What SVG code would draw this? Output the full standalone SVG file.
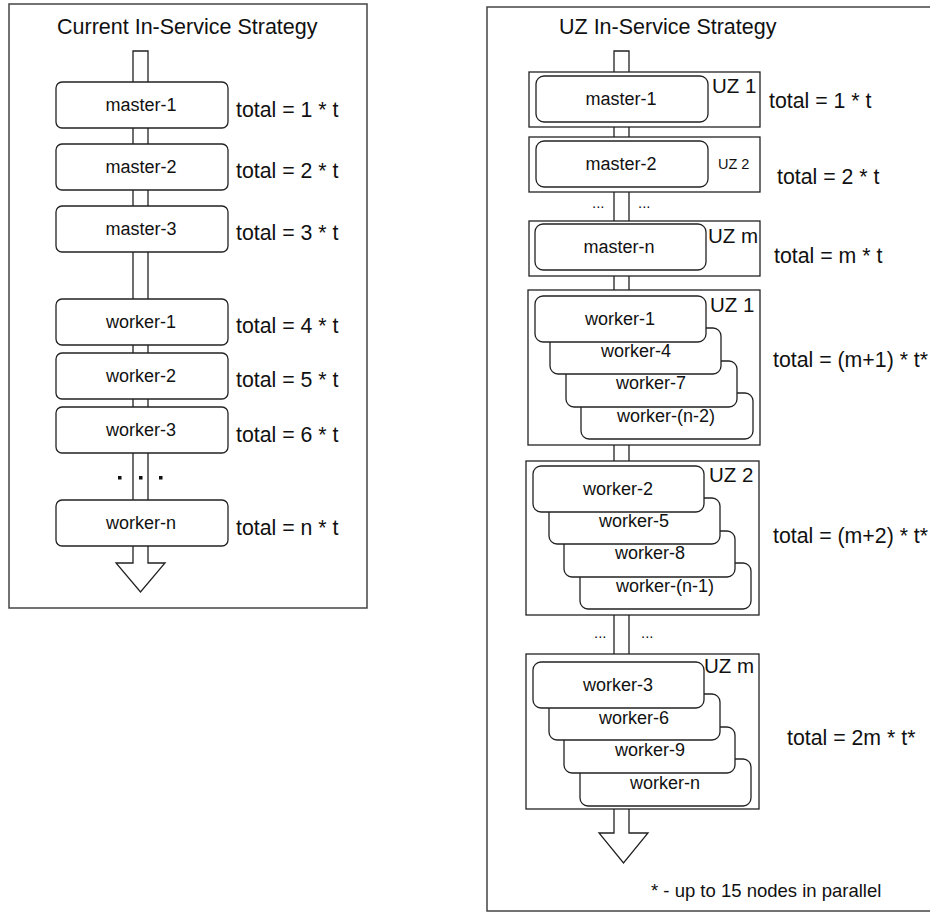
<svg xmlns="http://www.w3.org/2000/svg" width="930" height="913" viewBox="0 0 930 913">
<style>
text{font-family:"Liberation Sans",Arial,Helvetica,sans-serif;fill:#111}
.frame{fill:#fff;stroke:#444;stroke-width:1.5}
.node{fill:#fff;stroke:#222;stroke-width:1.3}
.zone{fill:#fff;stroke:#222;stroke-width:1.3}
.arrow{fill:#fff;stroke:#222;stroke-width:1.3}
.lbl{font-size:18px;text-anchor:middle}
.tot{font-size:21.3px}
.title{font-size:21.5px}
.uz{font-size:20.5px}
.dots{font-size:15px}
</style>
<rect width="930" height="913" fill="#fff"/>
<!-- Left panel -->
<g id="left-panel">
<rect class="frame" x="9" y="4" width="358" height="604"/>
<text class="title" x="57" y="34">Current In-Service Strategy</text>
</g>
<g id="left-connectors">
<path class="arrow" d="M133,51 H148 V563 H165 L140.5,592 L116,563 H133 Z"/>
<rect x="118" y="476" width="3.5" height="3.5" fill="#111"/>
<rect x="139" y="476" width="3.5" height="3.5" fill="#111"/>
<rect x="159" y="476" width="3.5" height="3.5" fill="#111"/>
</g>
<g id="l-master-1"><rect class="node" x="56" y="82" width="172" height="46" rx="6"/><text class="lbl" x="141" y="111">master-1</text><text class="tot" x="236" y="117">total = 1 * t</text></g>
<g id="l-master-2"><rect class="node" x="56" y="144" width="172" height="46" rx="6"/><text class="lbl" x="141" y="173">master-2</text><text class="tot" x="236" y="178">total = 2 * t</text></g>
<g id="l-master-3"><rect class="node" x="56" y="206" width="172" height="46" rx="6"/><text class="lbl" x="141" y="235">master-3</text><text class="tot" x="236" y="240">total = 3 * t</text></g>
<g id="l-worker-1"><rect class="node" x="56" y="299" width="172" height="46" rx="6"/><text class="lbl" x="141" y="328">worker-1</text><text class="tot" x="236" y="333">total = 4 * t</text></g>
<g id="l-worker-2"><rect class="node" x="56" y="353" width="172" height="46" rx="6"/><text class="lbl" x="141" y="382">worker-2</text><text class="tot" x="236" y="387">total = 5 * t</text></g>
<g id="l-worker-3"><rect class="node" x="56" y="407" width="172" height="46" rx="6"/><text class="lbl" x="141" y="436">worker-3</text><text class="tot" x="236" y="442">total = 6 * t</text></g>
<g id="l-worker-n"><rect class="node" x="56" y="500" width="172" height="46" rx="6"/><text class="lbl" x="141" y="529">worker-n</text><text class="tot" x="236" y="535">total = n * t</text></g>

<!-- Right panel -->
<g id="right-panel">
<rect class="frame" x="487" y="7" width="460" height="904"/>
<text class="title" x="559" y="34">UZ In-Service Strategy</text>
<text x="651" y="897" style="font-size:18.5px">* - up to 15 nodes in parallel</text>
</g>
<g id="right-connectors">
<path class="arrow" d="M614,51 H629 V833 H648 L623.5,863 L599,833 H614 Z"/>
<text class="dots" x="592" y="208">...</text>
<text class="dots" x="638" y="208">...</text>
<text class="dots" x="594" y="638">...</text>
<text class="dots" x="641" y="638">...</text>
</g>
<g id="uz1-master">
<rect class="zone" x="529" y="72" width="231" height="55"/>
<rect class="node" x="536" y="76" width="172" height="46" rx="8"/>
<text class="lbl" x="621" y="105">master-1</text>
<text class="uz" x="712" y="93">UZ 1</text>
<text class="tot" x="769" y="108">total = 1 * t</text>
</g>
<g id="uz2-master">
<rect class="zone" x="529" y="137" width="231" height="55"/>
<rect class="node" x="536" y="141" width="172" height="46" rx="8"/>
<text class="lbl" x="621" y="170">master-2</text>
<text x="718" y="169" style="font-size:14.5px">UZ 2</text>
<text class="tot" x="777" y="184">total = 2 * t</text>
</g>
<g id="uzm-master">
<rect class="zone" x="529" y="221" width="231" height="55"/>
<rect class="node" x="535" y="224" width="171" height="46" rx="8"/>
<text class="lbl" x="619" y="253">master-n</text>
<text class="uz" x="708" y="243">UZ m</text>
<text class="tot" x="774" y="263">total = m * t</text>
</g>
<g id="uz1-workers">
<rect class="zone" x="528" y="290" width="232" height="155"/>
<rect class="node" x="581" y="393" width="172" height="46" rx="8"/>
<text class="lbl" x="666" y="422">worker-(n-2)</text>
<rect class="node" x="566" y="361" width="171" height="46" rx="8"/>
<text class="lbl" x="651" y="389">worker-7</text>
<rect class="node" x="550" y="328" width="171" height="46" rx="8"/>
<text class="lbl" x="636" y="357">worker-4</text>
<rect class="node" x="535" y="296" width="171" height="46" rx="8"/>
<text class="lbl" x="620" y="325">worker-1</text>
<text class="uz" x="710" y="312">UZ 1</text>
<text class="tot" x="773" y="367">total = (m+1) * t*</text>
</g>
<g id="uz2-workers">
<rect class="zone" x="526" y="461" width="233" height="154"/>
<rect class="node" x="580" y="563" width="171" height="46" rx="8"/>
<text class="lbl" x="665" y="592">worker-(n-1)</text>
<rect class="node" x="564" y="531" width="171" height="46" rx="8"/>
<text class="lbl" x="650" y="559">worker-8</text>
<rect class="node" x="549" y="498" width="171" height="46" rx="8"/>
<text class="lbl" x="634" y="527">worker-5</text>
<rect class="node" x="533" y="466" width="171" height="46" rx="8"/>
<text class="lbl" x="618" y="495">worker-2</text>
<text class="uz" x="709" y="482">UZ 2</text>
<text class="tot" x="773" y="543">total = (m+2) * t*</text>
</g>
<g id="uzm-workers">
<rect class="zone" x="526" y="654" width="233" height="155"/>
<rect class="node" x="580" y="759" width="171" height="47" rx="8"/>
<text class="lbl" x="665" y="789">worker-n</text>
<rect class="node" x="564" y="727" width="171" height="46" rx="8"/>
<text class="lbl" x="650" y="756">worker-9</text>
<rect class="node" x="549" y="694" width="171" height="46" rx="8"/>
<text class="lbl" x="634" y="724">worker-6</text>
<rect class="node" x="533" y="662" width="171" height="46" rx="8"/>
<text class="lbl" x="618" y="691">worker-3</text>
<text class="uz" x="704" y="673">UZ m</text>
<text class="tot" x="787" y="745">total = 2m * t*</text>
</g>
</svg>
